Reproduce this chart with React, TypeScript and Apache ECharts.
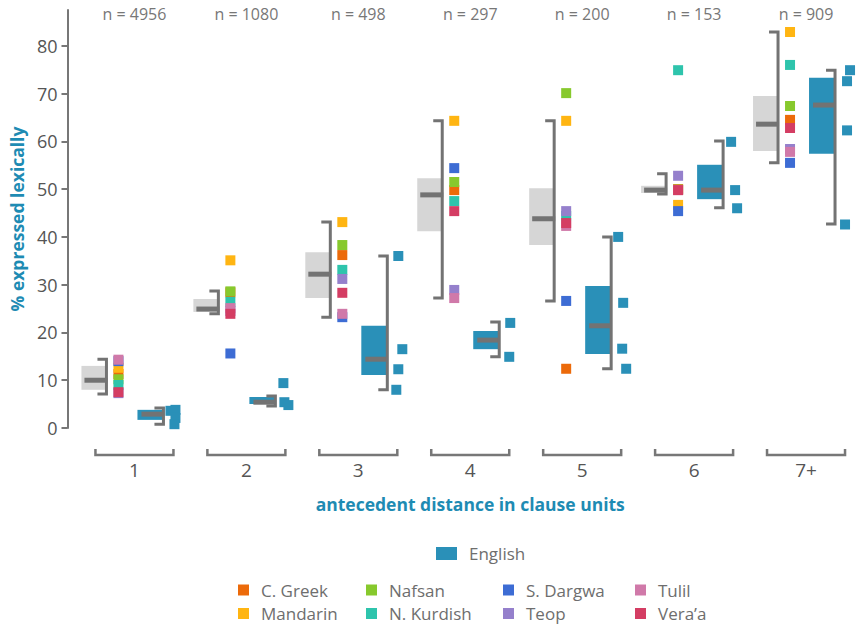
import React, { useEffect, useRef } from 'react';
import * as echarts from 'echarts';

// ---------------- data ----------------
const CATEGORIES = ['1', '2', '3', '4', '5', '6', '7+'];
const N_COUNTS = [4956, 1080, 498, 297, 200, 153, 909];

const LANGUAGES = ['C. Greek', 'Mandarin', 'Nafsan', 'N. Kurdish', 'S. Dargwa', 'Teop', 'Tulil', 'Vera’a'];
const C_GREEK = [11.3, 28.4, 36.2, 49.8, 12.4, 50.0, 64.5];
const MANDARIN = [12.6, 35.1, 43.1, 64.3, 64.3, 46.7, 82.9];
const NAFSAN = [10.2, 28.6, 38.3, 51.5, 70.1, 49.9, 67.4];
const N_KURDISH = [9.0, 26.4, 33.1, 47.5, 44.4, 74.9, 76.0];
const S_DARGWA = [14.0, 15.6, 23.2, 54.4, 26.6, 45.4, 55.5];
const TEOP = [7.3, 24.5, 31.2, 28.9, 45.4, 52.8, 58.4];
const TULIL = [14.3, 25.1, 23.9, 27.2, 42.3, 49.8, 57.8];
const VERAA = [7.5, 23.9, 28.3, 45.4, 42.9, 49.8, 62.8];
const LANGUAGE_VALUES = [C_GREEK, MANDARIN, NAFSAN, N_KURDISH, S_DARGWA, TEOP, TULIL, VERAA];

// pooled languages: range bracket, quartile box, median
const POOLED_LOW = [7.1, 23.9, 23.2, 27.2, 26.6, 49.0, 55.5];
const POOLED_Q1 = [8.0, 24.3, 27.2, 41.2, 38.3, 49.2, 58.0];
const POOLED_MEDIAN = [10.0, 24.9, 32.2, 48.8, 43.8, 49.8, 63.6];
const POOLED_Q3 = [13.0, 27.0, 36.8, 52.3, 50.2, 50.7, 69.5];
const POOLED_HIGH = [14.4, 28.7, 43.1, 64.3, 64.3, 53.2, 82.9];

// English
const ENGLISH_LOW = [0.8, 4.6, 8.0, 14.9, 12.4, 46.1, 42.7];
const ENGLISH_Q1 = [1.7, 5.0, 11.1, 16.5, 15.5, 47.9, 57.4];
const ENGLISH_MEDIAN = [2.9, 5.4, 14.4, 18.4, 21.4, 49.8, 67.6];
const ENGLISH_Q3 = [3.8, 6.5, 21.4, 20.3, 29.7, 55.1, 73.3];
const ENGLISH_HIGH = [4.2, 6.7, 36.0, 22.2, 40.0, 60.1, 74.9];
const ENGLISH_POINTS = [
  [3.6, 3.8, 2.1, 0.8],
  [9.4, 5.4, 4.8],
  [36.0, 16.5, 12.3, 8.0],
  [22.0, 14.9],
  [40.0, 26.2, 16.6, 12.4],
  [59.9, 49.8, 46.0],
  [74.9, 72.6, 62.3, 42.6],
];

const Y_TICKS = [0, 10, 20, 30, 40, 50, 60, 70, 80];

// ---------------- styles ----------------
const LANG_COLORS = ['#ec6a0a', '#ffb512', '#87c92d', '#2ec4ac', '#3d6cd4', '#9580cc', '#d079a9', '#d43d63'];
const ENGLISH_COLOR = '#2a90b8';
const BOX_GRAY = '#d6d6d6';
const DARK_GRAY = '#737373';
const AXIS_GRAY = '#777777';
const TITLE_COLOR = '#1e8bb3';
const NARROW = '"Liberation Sans Narrow", "Open Sans", sans-serif';
const SANS = '"Open Sans", sans-serif';
// small horizontal jitter (px) of the English squares, per category and point
const ENGLISH_JITTER = [
  [36, 41, 41, 40],
  [37, 38, 42],
  [40, 44, 40, 38],
  [40, 39],
  [36, 41, 40, 44],
  [37, 41, 43],
  [44, 41, 41, 39],
];

function boxRenderer(boxL: number, boxR: number, medL: number, medR: number, brX: number, brTick: number, fill: string) {
  return (params: any, api: any) => {
    const i = api.value(0);
    const c = api.coord([i, 0])[0];
    const yLow = api.coord([i, api.value(1)])[1];
    const yQ1 = api.coord([i, api.value(2)])[1];
    const yMed = api.coord([i, api.value(3)])[1];
    const yQ3 = api.coord([i, api.value(4)])[1];
    const yHigh = api.coord([i, api.value(5)])[1];
    return {
      type: 'group',
      children: [
        { type: 'rect', shape: { x: c + boxL, y: yQ3, width: boxR - boxL, height: Math.max(1, yQ1 - yQ3) }, style: { fill } },
        { type: 'line', shape: { x1: c + medL, y1: yMed, x2: c + medR, y2: yMed }, style: { stroke: DARK_GRAY, lineWidth: 5 } },
        {
          type: 'polyline',
          shape: { points: [[c + brX - brTick, yHigh], [c + brX, yHigh], [c + brX, yLow], [c + brX - brTick, yLow]] },
          style: { stroke: DARK_GRAY, lineWidth: 3, fill: 'none', lineJoin: 'miter' },
        },
      ],
    };
  };
}

function squareRenderer(xOff: number | null) {
  return (params: any, api: any) => {
    const i = api.value(0);
    const c = api.coord([i, 0])[0];
    const y = api.coord([i, api.value(1)])[1];
    const off = xOff === null ? ENGLISH_JITTER[i][api.value(2)] : xOff;
    return {
      type: 'rect',
      shape: { x: c + off - 5, y: y - 5, width: 10, height: 10 },
      style: { fill: api.visual('color') },
    };
  };
}

export default function App() {
  const ref = useRef<HTMLDivElement>(null);

  useEffect(() => {
    document.body.style.margin = '0';
    if (!ref.current) return;
    const chart = echarts.init(ref.current, null, { renderer: 'svg' });

    const pooledData = CATEGORIES.map((_, i) => [i, POOLED_LOW[i], POOLED_Q1[i], POOLED_MEDIAN[i], POOLED_Q3[i], POOLED_HIGH[i]]);
    const englishBoxData = CATEGORIES.map((_, i) => [i, ENGLISH_LOW[i], ENGLISH_Q1[i], ENGLISH_MEDIAN[i], ENGLISH_Q3[i], ENGLISH_HIGH[i]]);
    const englishPointData: number[][] = [];
    ENGLISH_POINTS.forEach((vals, i) => vals.forEach((v, k) => englishPointData.push([i, v, k])));

    const langSeries = LANGUAGES.map((name, li) => ({
      type: 'custom',
      name,
      clip: false,
      itemStyle: { color: LANG_COLORS[li] },
      data: LANGUAGE_VALUES[li].map((v, i) => [i, v]),
      renderItem: squareRenderer(-16),
      z: 3,
    }));

    const legendText = { color: '#6e6e6e', fontSize: 17, fontFamily: SANS, lineHeight: 18, padding: [0, 0, 0, 7] };
    const colLegend = (names: string[], left: number) => ({
      data: names,
      orient: 'vertical',
      left,
      top: 581,
      padding: 0,
      itemWidth: 11,
      itemHeight: 11,
      itemGap: 5.5,
      icon: 'rect',
      selectedMode: false,
      textStyle: legendText,
    });

    chart.setOption({
      animation: false,
      grid: { left: 78, top: 10, width: 792, height: 418 },
      legend: [
        {
          data: ['English'], left: 436, top: 544.5, padding: 0, itemWidth: 21, itemHeight: 13,
          icon: 'rect', selectedMode: false, textStyle: legendText,
        },
        colLegend(['C. Greek', 'Mandarin'], 238),
        colLegend(['Nafsan', 'N. Kurdish'], 366),
        colLegend(['S. Dargwa', 'Teop'], 503),
        colLegend(['Tulil', 'Vera’a'], 635),
      ],
      xAxis: {
        type: 'category',
        data: CATEGORIES,
        boundaryGap: true,
        axisLine: { show: false },
        axisTick: { show: false },
        splitLine: { show: false },
        axisLabel: { color: '#555', fontSize: 19, fontFamily: NARROW, margin: 32 },
        name: 'antecedent distance in clause units',
        nameLocation: 'middle',
        nameGap: 67,
        nameTextStyle: { color: TITLE_COLOR, fontSize: 17.5, fontWeight: 'bold', fontFamily: SANS },
      },
      yAxis: {
        type: 'value',
        min: 0,
        max: 87.5,
        interval: 10,
        offset: 11,
        splitLine: { show: false },
        axisLine: { show: true, lineStyle: { color: AXIS_GRAY, width: 2 } },
        axisTick: { show: true, length: 6, customValues: Y_TICKS, lineStyle: { color: AXIS_GRAY, width: 2 } },
        axisLabel: {
          color: '#555', fontSize: 18, fontFamily: NARROW, margin: 10, customValues: Y_TICKS,
          formatter: (v: number) => (v % 10 === 0 ? String(v) : ''),
        },
        name: '% expressed lexically',
        nameLocation: 'middle',
        nameGap: 41,
        nameTextStyle: { color: TITLE_COLOR, fontSize: 17.5, fontWeight: 'bold', fontFamily: SANS, padding: [0, 0, 0, 0] },
      },
      series: [
        {
          type: 'custom',
          name: 'decor',
          clip: false,
          silent: true,
          data: CATEGORIES.map((_, i) => [i, 0]),
          renderItem: (params: any, api: any) => {
            const i = api.value(0);
            const c = api.coord([i, 0])[0];
            const cs = params.coordSys;
            const bottom = cs.y + cs.height;
            return {
              type: 'group',
              children: [
                {
                  type: 'polyline',
                  shape: { points: [[c - 39, bottom + 21], [c - 39, bottom + 27], [c + 39, bottom + 27], [c + 39, bottom + 21]] },
                  style: { stroke: AXIS_GRAY, lineWidth: 2.5, fill: 'none' },
                },
                {
                  type: 'text',
                  x: c,
                  y: cs.y + 4,
                  style: {
                    text: 'n = ' + N_COUNTS[i],
                    fill: AXIS_GRAY,
                    fontSize: 16,
                    fontFamily: NARROW,
                    align: 'center',
                    verticalAlign: 'middle',
                  },
                },
              ],
            };
          },
          z: 1,
        },
        {
          type: 'custom',
          name: 'pooled',
          clip: false,
          data: pooledData,
          renderItem: boxRenderer(-53, -28, -50, -27, -28, 9, BOX_GRAY),
          z: 2,
        },
        ...langSeries,
        {
          type: 'custom',
          name: 'English',
          clip: false,
          itemStyle: { color: ENGLISH_COLOR },
          data: englishBoxData,
          renderItem: boxRenderer(3, 28, 7, 29, 29, 9, ENGLISH_COLOR),
          z: 2,
        },
        {
          type: 'custom',
          name: 'English',
          clip: false,
          itemStyle: { color: ENGLISH_COLOR },
          data: englishPointData,
          renderItem: squareRenderer(null),
          z: 3,
        },
      ],
    });

    return () => chart.dispose();
  }, []);

  return <div ref={ref} style={{ width: 862, height: 625 }} />;
}
